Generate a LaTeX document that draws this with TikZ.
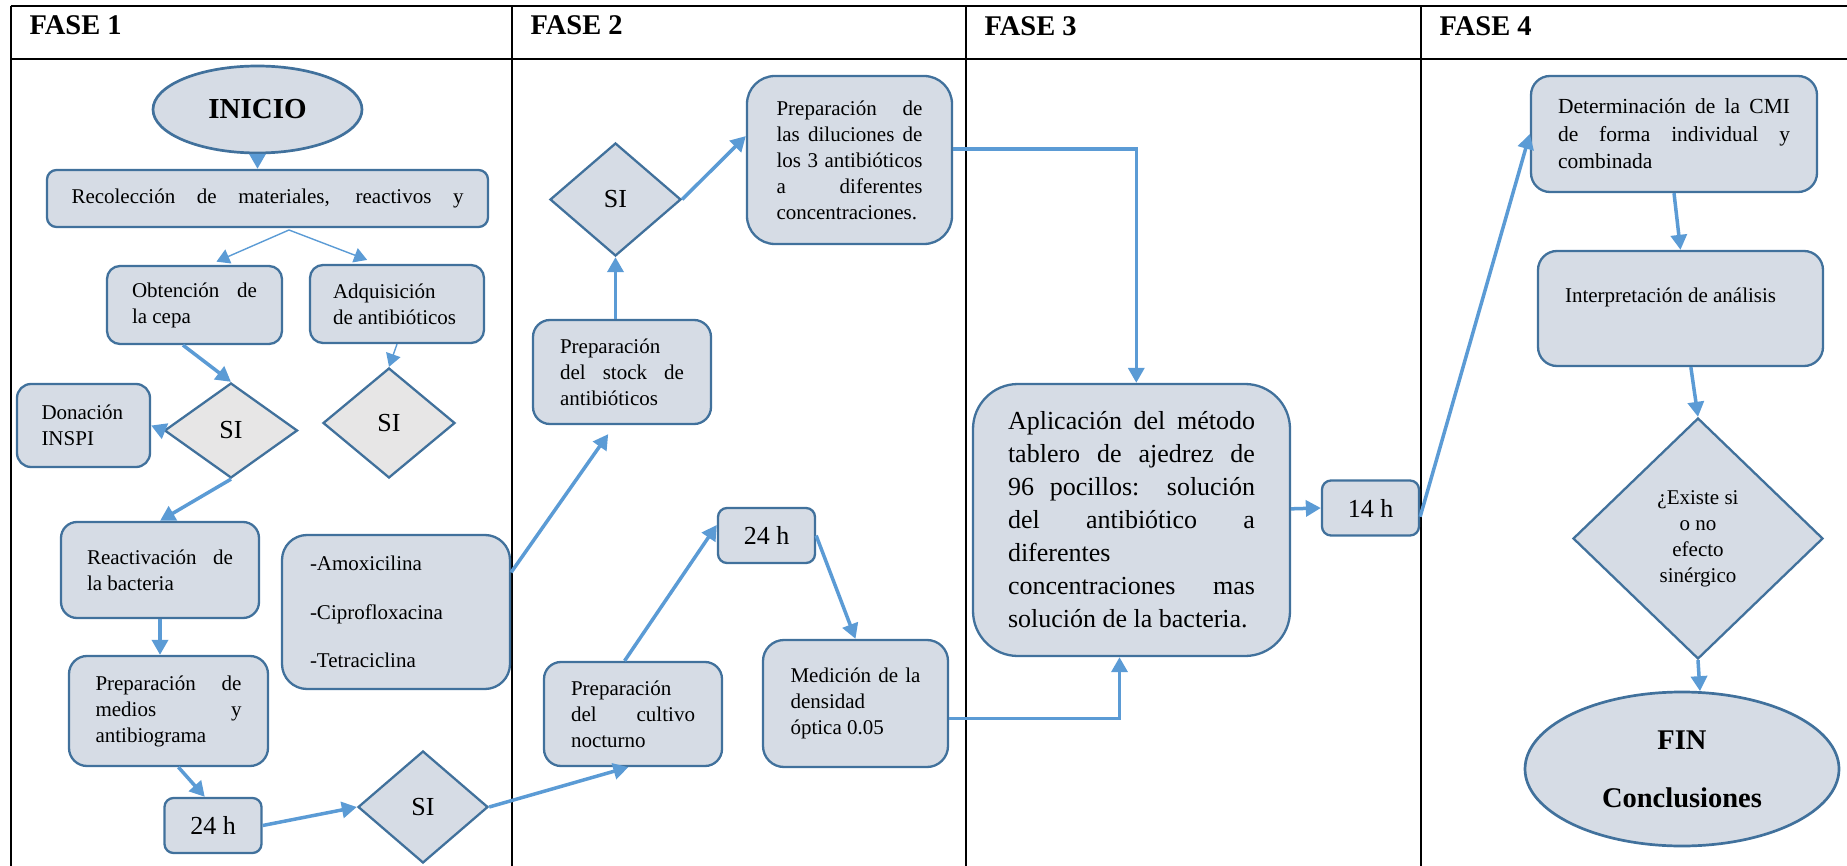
\documentclass[tikz,border=0pt]{standalone}
\usepackage{fontspec}
\setmainfont{Liberation Serif}
\usetikzlibrary{arrows.meta,calc,positioning}
\usetikzlibrary{shapes.geometric}
\definecolor{relleno}{HTML}{D6DCE5}
\definecolor{gris}{HTML}{E7E6E6}
\definecolor{borde}{HTML}{41719C}
\definecolor{azul}{HTML}{5B9BD5}
\hyphenpenalty=10000
\exhyphenpenalty=10000
\hbadness=10000
\tolerance=10000

\begin{document}
\begin{tikzpicture}[x=1pt,y=-1pt,
caja/.style={draw=borde, fill=relleno, line width=2.3pt, rounded corners=#1, inner xsep=25pt, inner ysep=0pt, align=justify, font=\fontsize{21}{26}\selectfont},
hora/.style={draw=borde, fill=relleno, line width=2.3pt, rounded corners=9pt, minimum width=97pt, minimum height=55pt, inner sep=0pt, font=\fontsize{26}{30}\selectfont},
rombo/.style={diamond, draw=borde, fill=#1, line width=2.3pt, inner sep=0pt, font=\fontsize{26}{30}\selectfont},
ovalo/.style={ellipse, draw=borde, fill=relleno, line width=2.7pt, inner sep=0pt, font=\fontsize{29}{33}\selectfont\bfseries},
fase/.style={anchor=base west, font=\fontsize{28.5}{33}\selectfont\bfseries},
flecha/.style={draw=azul, line width=3.5pt, -{Triangle[length=15pt,width=16pt]}},
fina/.style={draw=azul, line width=1.4pt, -{Triangle[length=13pt,width=15pt]}}]
\useasboundingbox (0,0) rectangle (1847,866);
\draw[line width=2.5pt] (10.5,6) -- (1847,6) (10.5,59) -- (1847,59);
\draw[line width=2pt] (10.5,6) -- (10.5,866);
\draw[line width=2pt] (512,6) -- (512,866);
\draw[line width=2pt] (966,6) -- (966,866);
\draw[line width=2pt] (1421,6) -- (1421,866);
\node[fase] (f1) at (26,35) {FASE 1};
\node[fase] (f2) at (527,35) {FASE 2};
\node[fase] (f3) at (981,36) {FASE 3};
\node[fase] (f4) at (1436,36) {FASE 4};

\node[ovalo, minimum width=209pt, minimum height=87pt] (ini) at (257.5,109.5) {INICIO};
\node[caja=9.5pt, text width=392pt, inner xsep=24.5pt, minimum height=57pt] (rec) at (267.5,198.5) {\makebox[392pt][s]{Recolección de materiales, reactivos y}};
\node[caja=13pt, text width=125pt, minimum height=78pt] (obt) at (194.5,305) {Obtención de\linebreak la cepa};
\node[caja=13pt, text width=128pt, inner xsep=23pt, minimum height=78pt] (adq) at (397,304) {Adquisición\linebreak de antibióticos};
\node[rombo=gris, minimum width=133pt, minimum height=95pt] (si1) at (231,430.5) {SI};
\node[rombo=gris, minimum width=132pt, minimum height=110pt] (si2) at (389,423) {SI};
\node[caja=14pt, text width=84pt, inner xsep=24.5pt, minimum height=83pt] (don) at (83.5,425.5) {Donación\linebreak INSPI};
\node[caja=16pt, text width=146pt, inner xsep=26pt, minimum height=96pt] (rea) at (160,570) {Reactivación de\linebreak la bacteria};
\node[caja=18pt, text width=146pt, inner xsep=26.5pt, minimum height=110pt] (pm) at (168.5,711) {Preparación de\linebreak medios y\linebreak antibiograma};
\node[hora] (h1) at (213,825.5) {24 h};
\node[caja=25pt, text width=172pt, inner xsep=28pt, minimum height=154pt, align=left] (amo) at (396,612) {-Amoxicilina\\[22.5pt]-Ciprofloxacina\\[22.5pt]-Tetraciclina};
\node[rombo=relleno, minimum width=130pt, minimum height=112pt] (si3) at (423,807) {SI};

\node[rombo=relleno, minimum width=131pt, minimum height=113pt] (si4) at (615.5,199.5) {SI};
\node[caja=17pt, text width=124pt, inner xsep=27pt, minimum height=104pt] (stk) at (622,372) {Preparación\linebreak del stock de\linebreak antibióticos};
\node[caja=28pt, text width=146pt, inner xsep=29.5pt, minimum height=168pt] (dil) at (849.5,160) {Preparación de\linebreak las diluciones de\linebreak los 3 antibióticos\linebreak a diferentes\linebreak concentraciones.};
\node[caja=17pt, text width=124pt, inner xsep=27pt, minimum height=104pt] (cul) at (633,714) {Preparación\linebreak del cultivo\linebreak nocturno};
\node[hora] (h2) at (766.5,535.5) {24 h};
\node[caja=21pt, text width=130pt, inner xsep=27.5pt, minimum height=127pt] (med) at (855.5,703.5) {Medición de la\linebreak densidad\linebreak óptica 0.05};

\node[caja=45pt, text width=247pt, inner xsep=35pt, minimum height=272pt, font=\fontsize{26}{33}\selectfont] (apl) at (1131.5,520) {Aplicación del método\linebreak tablero de ajedrez de\linebreak 96 pocillos: solución\linebreak del antibiótico a\linebreak diferentes\linebreak concentraciones mas\linebreak solución de la bacteria.};
\node[hora] (h3) at (1370.5,508) {14 h};

\node[caja=19pt, text width=232pt, inner xsep=27pt, minimum height=116pt, font=\fontsize{21.5}{27.5}\selectfont] (det) at (1674,134) {Determinación de la CMI\linebreak de forma individual y\linebreak combinada};
\node[caja=19pt, text width=231pt, inner xsep=27pt, minimum height=115pt] (int) at (1680.5,308.5) {Interpretación de análisis\newline\mbox{}};
\node[rombo=relleno, minimum width=250pt, minimum height=241pt, align=center, font=\fontsize{21}{26}\selectfont] (exi) at (1698,538.5) {¿Existe si\\o no\\efecto\\sinérgico};
\node[ovalo, minimum width=314pt, minimum height=154pt, align=center, font=\fontsize{28.5}{33}\selectfont\bfseries] (fin) at (1682,769) {FIN\\[25pt]Conclusiones};

\coordinate (rk) at (289,230);
\draw[flecha] (ini.south) -- (ini.south |- rec.north);
\draw[fina, shorten >=8pt] (rk) -- (obt.70);
\draw[fina, shorten >=11pt] (rk) -- (adq.116);
\draw[flecha] (obt.254) -- (si1.north);
\draw[fina] (adq.south) -- (si2.north);
\draw[flecha] (si1.west) -- (don.east);
\draw[flecha] (si1.south) -- (rea.north);
\draw[flecha] (rea.south) -- (rea.south |- pm.north);
\draw[flecha] (pm.-80) -- (h1.106);
\draw[flecha] (h1.east) -- (si3.west);
\draw[flecha] (si3.east) -- (cul.265);
\draw[flecha, shorten >=11pt] (amo.19) -- (stk.262);
\draw[flecha] (si4.south |- stk.north) -- (si4.south);
\draw[flecha] (si4.east) -- (dil.167);
\draw[flecha] (cul.99) -- (h2.168);
\draw[flecha] (h2.east) -- (med.north);
\draw[flecha] (dil.6) -| (apl.88);
\draw[flecha] (med.-9) -| (apl.265);
\draw[flecha] (apl.4) -- (h3.west);
\draw[flecha] (h3.-10) -- (det.west);
\draw[flecha] (det.south) -- (int.north);
\draw[flecha] (int.-80) -- (exi.north);
\draw[flecha] (exi.south) -- (fin.77);
\end{tikzpicture}
\end{document}
